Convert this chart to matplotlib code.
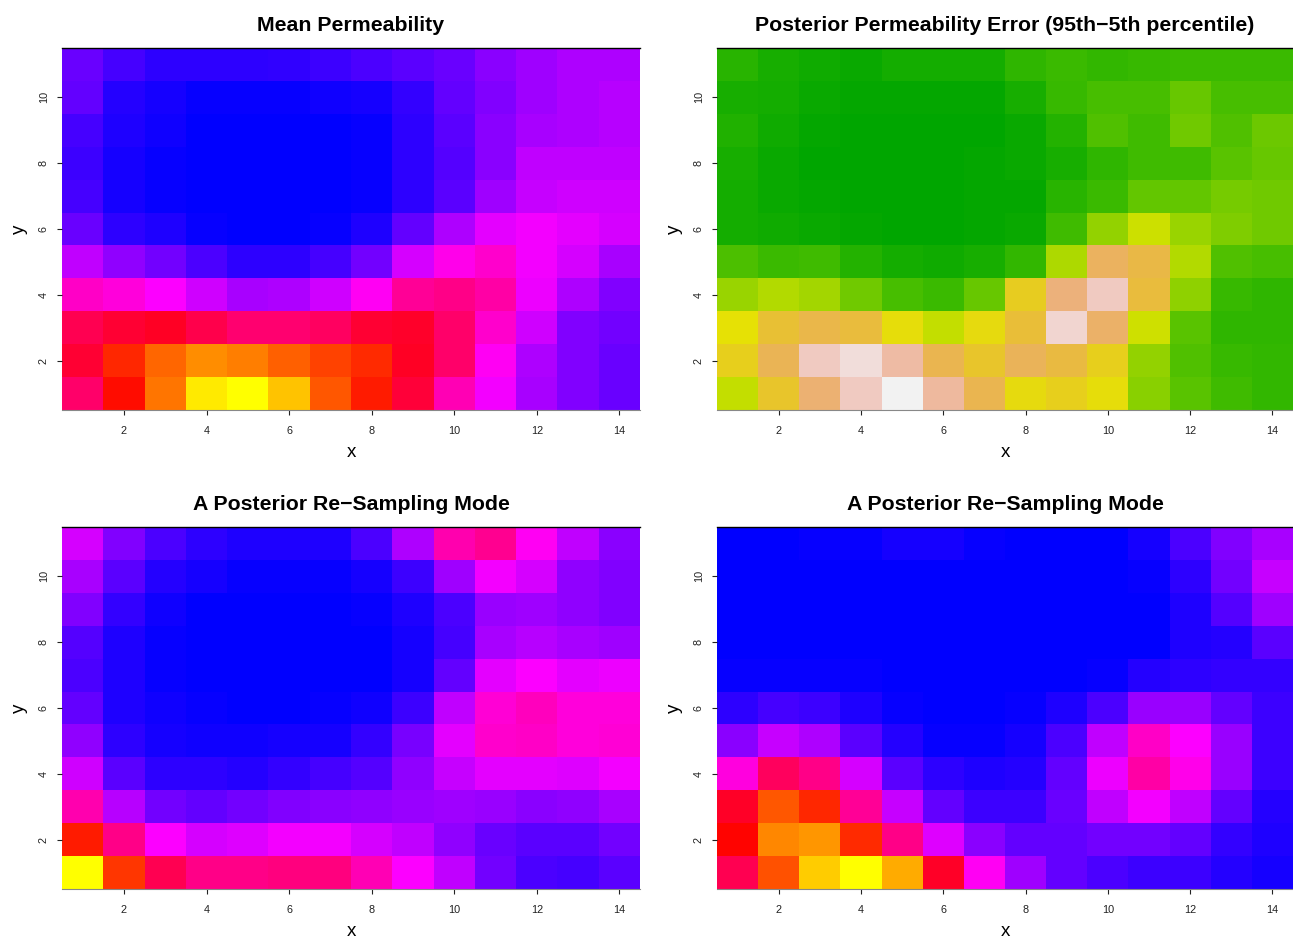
import colorsys
import numpy as np
import matplotlib
matplotlib.use("Agg")
import matplotlib.pyplot as plt
from matplotlib.colors import LinearSegmentedColormap

plt.rcParams['font.family'] = ['Liberation Sans', 'DejaVu Sans']

# grid coordinates
xs = np.arange(1, 15)
ys = np.arange(1, 12)

# values, rows listed from y=11 (top) down to y=1
# permeability-type panels: 0 = blue, 33 = magenta, 67 = red, 100 = yellow
mean_perm = [
    [14, 9, 6, 6, 6, 6.5, 8, 10, 12, 14, 18, 21, 23, 23],
    [13, 5, 3, 1, 1, 1, 2, 3, 7, 13, 17, 21, 23, 24],
    [9, 4, 2, 0, 0, 0, 0, 1, 6, 12, 18, 22, 23, 24],
    [8, 3, 1, 0, 0, 0, 0, 1, 6, 11, 18, 25, 25, 25],
    [9, 3, 1, 0, 0, 0, 0, 1, 6, 12, 21, 26, 27, 27],
    [14, 6, 4, 1, 0, 0, 1, 4, 13, 23, 30, 32, 30, 28],
    [25, 19, 15, 10, 6, 6, 9, 15, 28, 36, 40, 32, 28, 22],
    [41, 38, 33, 27, 22, 23, 27, 35, 47, 49, 45, 31, 23, 17],
    [56, 60, 62, 57, 52, 52, 54, 60, 61, 53, 40, 27, 17, 15],
    [60, 71.5, 80, 85, 83, 79, 75, 72, 62, 53, 35, 23, 17, 14],
    [53, 68, 82, 97, 100, 92, 78, 70, 59, 43, 32, 22, 17, 14],
]

# error panel on terrain scale: 0 = dark green, 0.5 = yellow, 1 = white
perm_error = [
    [0.11, 0.07, 0.045, 0.03, 0.06, 0.06, 0.06, 0.13, 0.16, 0.14, 0.15, 0.16, 0.16, 0.16],
    [0.07, 0.06, 0.03, 0.015, 0.015, 0.015, 0.015, 0.07, 0.15, 0.19, 0.19, 0.26, 0.19, 0.19],
    [0.09, 0.045, 0.015, 0, 0, 0, 0, 0.03, 0.10, 0.21, 0.17, 0.28, 0.21, 0.27],
    [0.07, 0.03, 0, 0, 0, 0, 0.015, 0.03, 0.07, 0.13, 0.17, 0.17, 0.23, 0.26],
    [0.06, 0.03, 0.015, 0, 0, 0, 0.015, 0.015, 0.11, 0.16, 0.25, 0.25, 0.29, 0.28],
    [0.06, 0.045, 0.03, 0.015, 0, 0, 0.015, 0.03, 0.17, 0.35, 0.455, 0.36, 0.31, 0.28],
    [0.20, 0.16, 0.17, 0.10, 0.06, 0.045, 0.07, 0.14, 0.40, 0.70, 0.65, 0.41, 0.21, 0.19],
    [0.36, 0.41, 0.38, 0.28, 0.19, 0.16, 0.26, 0.57, 0.76, 0.90, 0.63, 0.34, 0.15, 0.13],
    [0.51, 0.61, 0.66, 0.63, 0.52, 0.44, 0.53, 0.62, 0.93, 0.72, 0.46, 0.23, 0.13, 0.13],
    [0.56, 0.68, 0.90, 0.95, 0.84, 0.67, 0.59, 0.69, 0.64, 0.56, 0.35, 0.21, 0.15, 0.14],
    [0.44, 0.59, 0.74, 0.90, 1.00, 0.83, 0.67, 0.53, 0.56, 0.52, 0.33, 0.23, 0.17, 0.14],
]

resample_a = [
    [28, 17, 10, 6, 4, 4, 4, 10, 23, 44, 48, 35, 25, 18],
    [22, 12, 5, 3, 1, 1, 1, 3, 8, 21, 32, 28, 19, 17],
    [17, 7, 2, 0, 0, 0, 0, 1, 4, 10, 20, 21, 19, 17],
    [11, 4, 1, 0, 0, 0, 0, 0, 3, 9, 22, 24, 22, 21],
    [10, 4, 1, 0, 0, 0, 0, 0, 3, 13, 30, 33, 30, 31],
    [13, 4, 2, 1, 0, 0, 1, 2, 8, 25, 39, 42, 38, 38],
    [19, 6, 3, 2, 2, 3, 3, 7, 16, 30, 40, 41, 38, 39],
    [27, 12, 6, 6, 5, 7, 9, 11, 19, 26, 30, 30, 29, 32],
    [44, 24, 15, 13, 15, 17, 18, 19, 20, 21, 20, 18, 19, 22],
    [70, 49, 33, 28, 29, 32, 32, 28, 25, 19, 14, 12, 12, 15],
    [100, 73.5, 56, 49, 49, 50, 50, 43, 33, 25, 15, 10, 9, 12],
]

resample_b = [
    [0, 0, 1, 1, 3, 3, 1, 0, 0, 0, 3, 10, 17, 22],
    [0, 0, 0, 0, 0, 0, 0, 0, 0, 0, 1, 6, 15, 26],
    [0, 0, 0, 0, 0, 0, 0, 0, 0, 0, 0, 4, 11, 21],
    [0, 0, 0, 0, 0, 0, 0, 0, 0, 0, 0, 4, 5, 12],
    [1, 1, 1, 1, 0, 0, 0, 0, 0, 1, 5, 6, 7, 7],
    [6, 9, 8, 4, 1, 0, 0, 1, 4, 10, 20, 20, 13, 8],
    [18, 26, 23, 12, 5, 1, 1, 3, 10, 25, 41, 33, 20, 8],
    [37.5, 54.5, 49, 28, 12, 6, 4, 5, 13, 31, 45, 36, 20, 8],
    [61.5, 78, 71.5, 47, 26, 13, 8, 8, 14, 25, 32, 25, 13, 5],
    [67, 84, 86, 72, 49, 29, 18, 13, 13, 15, 15, 13, 7, 4],
    [56, 77, 93, 100, 89, 61.5, 35, 21, 13, 10, 8, 8, 5, 3],
]

titles = ["Mean Permeability",
          "Posterior Permeability Error (95th\u22125th percentile)",
          "A Posterior Re\u2212Sampling Mode",
          "A Posterior Re\u2212Sampling Mode"]

perm_cmap = LinearSegmentedColormap.from_list("perm", ["#0000FF", "#FF00FF", "#FF0000", "#FFFF00"])

# R style terrain colours
tcols = []
for u in np.linspace(0, 1, 41):
    if u <= 0.5:
        f = u / 0.5
        tcols.append(colorsys.hsv_to_rgb((4 - 2 * f) / 12, 1.0, 0.65 + 0.25 * f))
    else:
        f = (u - 0.5) / 0.5
        tcols.append(colorsys.hsv_to_rgb((2 - 2 * f) / 12, 1.0 - f, 0.9 + 0.05 * f))
terrain_cmap = LinearSegmentedColormap.from_list("terr", tcols)

W, H = 1293, 940
fig = plt.figure(figsize=(W / 100, H / 100), dpi=100)

# pixel boxes: left, top, right, bottom
boxes = [(62, 48, 640, 410), (717, 48, 1293, 410),
         (62, 527, 640, 889), (717, 527, 1293, 889)]
panels = [(mean_perm, perm_cmap, 0, 100),
          (perm_error, terrain_cmap, 0, 1),
          (resample_a, perm_cmap, 0, 100),
          (resample_b, perm_cmap, 0, 100)]

for (l, t, r, b), (vals, cmap, lo, hi), title in zip(boxes, panels, titles):
    ax = fig.add_axes([l / W, 1 - b / H, (r - l) / W, (b - t) / H])
    z = np.array(vals)[::-1]
    ax.pcolormesh(xs, ys, z, cmap=cmap, vmin=lo, vmax=hi, shading='nearest')
    ax.set_xlim(0.5, 14.5)
    ax.set_ylim(0.5, 11.5)
    ax.set_xticks([2, 4, 6, 8, 10, 12, 14])
    ax.set_yticks([2, 4, 6, 8, 10])
    ax.tick_params(axis='both', length=3.6, width=0.8, labelsize=7.8,
                   colors='#222222')
    ax.tick_params(axis='x', pad=8)
    ax.tick_params(axis='y', pad=6)
    for lab in ax.get_yticklabels():
        lab.set_rotation(90)
        lab.set_va('center')
    for side in ['left', 'right']:
        ax.spines[side].set_visible(False)
    ax.spines['top'].set_linewidth(1.0)
    ax.spines['bottom'].set_color('#888888')
    ax.set_xlabel("x", fontsize=13.5, labelpad=6)
    ax.set_ylabel("y", fontsize=13.5, labelpad=8)
    ax.set_title(title, fontsize=15.3, fontweight='bold', pad=12)

fig.savefig("out.png", dpi=100)
